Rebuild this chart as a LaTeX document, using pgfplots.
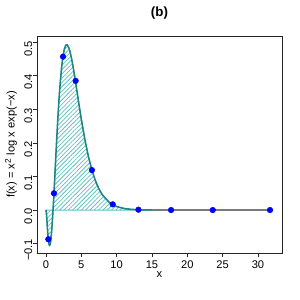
\documentclass[border=0pt]{standalone}
\usepackage{fontspec}
\setmainfont{Liberation Sans}
\usepackage{pgfplots}
\pgfplotsset{compat=1.18}
\usetikzlibrary{patterns.meta}
\definecolor{curvec}{HTML}{1E8585}
\definecolor{hatchc}{HTML}{62C2C2}
\begin{document}
\begin{tikzpicture}[font=\fontsize{8}{9.6}\selectfont]
\useasboundingbox (0,0) rectangle (216pt,216pt);
\begin{axis}[
  at={(26.64pt,33.84pt)}, anchor=south west,
  scale only axis, width=176.4pt, height=156.24pt,
  xmin=-1.27, xmax=33.4, ymin=-0.128, ymax=0.5186,
  axis line style={line width=0.6pt, black!85},
  xtick={0,5,10,15,20,25,30},
  xticklabels={0,5,10,15,20,25,30},
  ytick={-0.1,0,0.1,0.2,0.3,0.4,0.5},
  yticklabels={−0.1,0.0,0.1,0.2,0.3,0.4,0.5},
  xtick pos=bottom, ytick pos=left,
  tick align=outside, major tick length=3.2pt,
  tick style={line width=0.5pt, black!85},
  yticklabel style={rotate=90, anchor=south, inner sep=0pt, xshift=-4.6pt},
  xticklabel style={inner sep=0pt, yshift=-2.4pt, anchor=north},
  xlabel={x}, ylabel={f(x) = x\textsuperscript{2} log x exp(−x)},
  xlabel style={at={(axis description cs:0.5,-0.1014)}, anchor=center},
  ylabel style={at={(axis description cs:-0.1061,0.5)}, anchor=center, rotate=0},
  title={(b)},
  every axis title shift=0pt,
  title style={at={(axis description cs:0.5,1.106)}, anchor=center, font=\fontsize{9.6}{11}\selectfont\bfseries},
]
% black curve (visible beyond x=15)
\addplot[black!80, line width=1pt] coordinates {
(13,0.00098) (14,0.00043) (15,0.00019) (17,0.00003) (20,0) (32.1,0)};
% hatched polygon
\addplot[draw=hatchc, line width=0.7pt, pattern={Lines[angle=45,distance=2.2pt,line width=0.55pt]}, pattern color=hatchc] coordinates {
(0,0) (0.05,-0.00712) (0.1,-0.02083) (0.15,-0.03674) (0.2,-0.05271) (0.25,-0.06748)
(0.3,-0.08027) (0.35,-0.09063) (0.4,-0.09827) (0.45,-0.10310) (0.5,-0.10510)
(0.55,-0.10433) (0.6,-0.10092) (0.65,-0.09501) (0.7,-0.08679) (0.8,-0.06416)
(0.9,-0.03470) (1.0,0) (1.1,0.03839) (1.2,0.07908) (1.3,0.12084) (1.4,0.16263)
(1.5,0.20356) (1.6,0.24292) (1.7,0.28014) (1.8,0.31480) (1.9,0.34657) (2.0,0.37524)
(2.2,0.42283) (2.4,0.45745) (2.6,0.47974) (2.8,0.49085) (3.0,0.49229) (3.2,0.48550)
(3.4,0.47212) (3.6,0.45357) (3.8,0.43124) (4.0,0.40634) (4.25,0.37279) (4.5,0.33834)
(4.75,0.30416) (5.0,0.27110) (5.5,0.21074) (6.0,0.15990) (6.5,0.11889) (7.0,0.08695)
(7.5,0.06269) (8.0,0.04465) (9.0,0.02196) (10,0.01045) (11,0.00485) (12,0.00220)
(13,0.00098) (14,0.00043) (15,0.00019) (15,0)} -- cycle;
% teal curve
\addplot[curvec, line width=1.1pt] coordinates {
(0,0) (0.05,-0.00712) (0.1,-0.02083) (0.15,-0.03674) (0.2,-0.05271) (0.25,-0.06748)
(0.3,-0.08027) (0.35,-0.09063) (0.4,-0.09827) (0.45,-0.10310) (0.5,-0.10510)
(0.55,-0.10433) (0.6,-0.10092) (0.65,-0.09501) (0.7,-0.08679) (0.8,-0.06416)
(0.9,-0.03470) (1.0,0) (1.1,0.03839) (1.2,0.07908) (1.3,0.12084) (1.4,0.16263)
(1.5,0.20356) (1.6,0.24292) (1.7,0.28014) (1.8,0.31480) (1.9,0.34657) (2.0,0.37524)
(2.2,0.42283) (2.4,0.45745) (2.6,0.47974) (2.8,0.49085) (3.0,0.49229) (3.2,0.48550)
(3.4,0.47212) (3.6,0.45357) (3.8,0.43124) (4.0,0.40634) (4.25,0.37279) (4.5,0.33834)
(4.75,0.30416) (5.0,0.27110) (5.5,0.21074) (6.0,0.15990) (6.5,0.11889) (7.0,0.08695)
(7.5,0.06269) (8.0,0.04465) (9.0,0.02196) (10,0.01045) (11,0.00485) (12,0.00220)
(13,0.00098) (14,0.00043) (15,0.00019)};
% points
\addplot[only marks, mark=*, mark size=2pt, color=blue, mark options={draw=blue, fill=blue}] coordinates {
(0.33,-0.087) (1.13,0.050) (2.41,0.457) (4.2,0.385) (6.5,0.119) (9.44,0.017)
(13.08,0.001) (17.7,0) (23.6,0) (31.7,0)};
\end{axis}
\end{tikzpicture}
\end{document}
